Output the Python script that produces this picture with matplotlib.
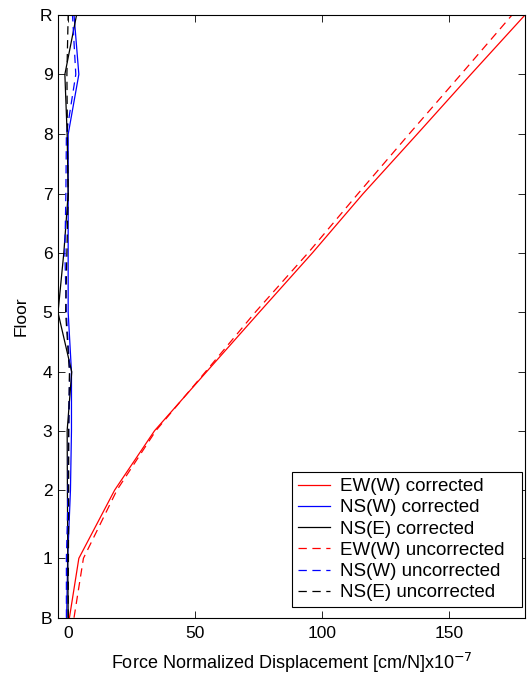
import matplotlib
matplotlib.use("Agg")
import matplotlib.pyplot as plt

plt.rcParams['font.family'] = ['Liberation Sans', 'DejaVu Sans']
plt.rcParams['lines.scale_dashes'] = False

floor_labels = ['B', '1', '2', '3', '4', '5', '6', '7', '8', '9', 'R']
floor_heights = [0, 1.0, 2.15, 3.15, 4.14, 5.14, 6.15, 7.14, 8.14, 9.15, 10.15]

ew_w_corr = [0.5, 4.2, 18.3, 34.0, 54.4, 75.1, 96.2, 116.0, 137.2, 158.4, 179.7]
ns_w_corr = [-0.6, -0.2, 0.9, 1.3, 1.3, 0.0, 0.0, 0.0, 0.0, 4.2, 2.3]
ns_e_corr = [0.0, -0.15, -0.3, -0.4, 1.4, -4.0, -1.7, 0.0, -0.4, -1.3, 3.3]
ew_w_unc = [2.3, 6.0, 19.2, 34.5, 54.0, 73.5, 94.5, 114.0, 134.0, 154.5, 174.6]
ns_w_unc = [-0.7, -0.7, 0.0, 0.2, 0.6, -0.7, -1.3, -0.9, -0.7, 3.0, 1.7]
ns_e_unc = [0.0, 0.1, 0.2, 0.2, 0.5, -1.0, -0.5, 0.0, -0.3, -0.5, 0.0]

series = [
    (ew_w_corr, '#ff0000', '-', 'EW(W) corrected'),
    (ns_w_corr, '#0000ff', '-', 'NS(W) corrected'),
    (ns_e_corr, '#000000', '-', 'NS(E) corrected'),
    (ew_w_unc, '#ff0000', '--', 'EW(W) uncorrected'),
    (ns_w_unc, '#0000ff', '--', 'NS(W) uncorrected'),
    (ns_e_unc, '#000000', '--', 'NS(E) uncorrected'),
]

FS = 12.5
LFS = 13.5

fig = plt.figure(figsize=(5.30, 6.76), dpi=100)
ax = fig.add_axes([58/530, 1-617.7/676, (525-58)/530, (617.7-15)/676])

for vals, c, ls, lab in series:
    if ls == '--':
        ax.plot(vals, floor_heights, color=c, lw=0.9, dashes=(6, 4), label=lab)
    else:
        ax.plot(vals, floor_heights, color=c, lw=0.9, label=lab)

allx = ew_w_corr + ns_w_corr + ns_e_corr + ew_w_unc + ns_w_unc + ns_e_unc
ax.set_xlim(min(allx), max(allx))
ax.set_ylim(floor_heights[0], floor_heights[-1])
ax.set_xticks([0, 50, 100, 150])
ax.set_yticks(floor_heights)
ax.set_yticklabels(floor_labels)
ax.tick_params(direction='in', top=True, right=True, length=5, width=0.6,
               labelsize=FS, pad=4)
ax.tick_params(axis='x', pad=6)
for s in ax.spines.values():
    s.set_linewidth(0.8)

ax.set_xlabel('Force Normalized Displacement [cm/N]x10$^{-7}$', fontsize=13, labelpad=7)
ax.set_ylabel('Floor', fontsize=FS, labelpad=8)

leg = ax.legend(loc='lower left', bbox_to_anchor=((292-58)/467, (617.7-607)/602.7, 230/467, 0.05),
                mode='expand', fontsize=LFS, handlelength=1.75, handletextpad=0.5,
                labelspacing=0.22, borderpad=0.3, borderaxespad=0,
                fancybox=False, framealpha=1, edgecolor='k')
leg.get_frame().set_linewidth(0.8)

fig.savefig('out.png', dpi=100)
